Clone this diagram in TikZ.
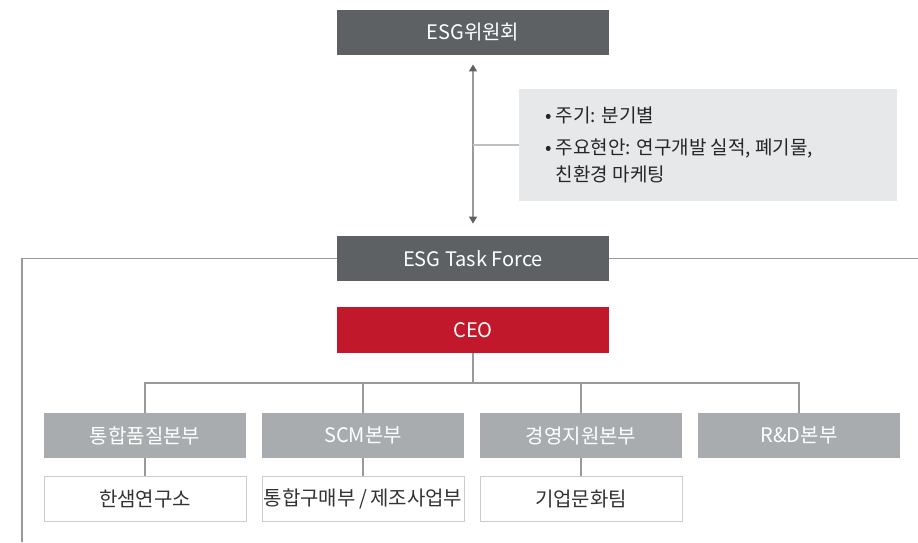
\documentclass[tikz,border=0pt]{standalone}
\usepackage{fontspec}
\setmainfont{Noto Sans CJK KR}
\usepackage{tikz}
\usetikzlibrary{arrows.meta}

\definecolor{boxdark}{HTML}{5E6164}
\definecolor{boxred}{HTML}{C1182B}
\definecolor{boxgray}{HTML}{A9ACAF}
\definecolor{infogray}{HTML}{E6E8EA}
\definecolor{linegray}{HTML}{9A9A9A}

\tikzset{
  topbox/.style={fill=boxdark,text=white,minimum width=272pt,minimum height=45.5pt,inner sep=0pt,font=\fontsize{20}{24}\selectfont},
  deptbox/.style={fill=boxgray,text=white,minimum width=202pt,minimum height=45.5pt,inner sep=0pt,font=\fontsize{20}{24}\selectfont},
  subbox/.style={draw=black!20,line width=1pt,fill=white,text=black!80,minimum width=202pt,minimum height=45.5pt,inner sep=0pt,font=\fontsize{20}{24}\selectfont},
  orgline/.style={draw=linegray,line width=1.2pt}
}

\begin{document}
\begin{tikzpicture}[x=1pt,y=-1pt]
\useasboundingbox (0,0) rectangle (918,542);
% upper part
\node[topbox] (committee) at (473,32.5) {ESG위원회};
\node[topbox] (taskforce) at (473,258.5) {ESG Task Force};
\node[topbox,fill=boxred] (ceo) at (473,330) {CEO};
\node[fill=infogray,minimum width=378pt,minimum height=112pt,inner sep=0pt] (info) at (708,145) {};
\node[anchor=north west,align=left,inner sep=0pt,text=black!85,font=\fontsize{19}{27}\selectfont] (infotext) at (545,107)
  {• 주기: 분기별\\[5pt]• 주요현안: 연구개발 실적, 폐기물,\\\hphantom{• }친환경 마케팅};
\draw[orgline,{Triangle[width=8pt,length=7pt,color=boxdark]}-{Triangle[width=8pt,length=7pt,color=boxdark]},shorten <=9pt,shorten >=12pt] (committee.south) -- (taskforce.north);
\coordinate (mid) at (473,145);
\draw[orgline,draw=black!25] (mid) -- (info.west);
\coordinate (leftend) at (22,542);
\coordinate (rightend) at (918,258.5);
\draw[orgline] (taskforce.west) -| (leftend);
\draw[orgline] (taskforce.east) -- (rightend);
% departments
\foreach \x/\name/\txt in {145/d1/통합품질본부,363/d2/SCM본부,581/d3/경영지원본부,799/d4/R\&D본부}
  \node[deptbox] (\name) at (\x,435.5) {\txt};
\foreach \x/\name/\txt in {145/s1/한샘연구소,363/s2/{통합구매부\,/\,제조사업부},581/s3/기업문화팀}
  \node[subbox] (\name) at (\x,499) {\txt};
\coordinate (branch) at (473,383);
\draw[orgline] (ceo.south) -- (branch);
\draw[orgline] (d1.north) |- (branch) -| (d4.north);
\foreach \d in {d2,d3}
  \draw[orgline] (\d.north) -- (\d.north |- branch);
\foreach \d/\s in {d1/s1,d2/s2,d3/s3}
  \draw[orgline] (\d.south) -- (\s.north);
\end{tikzpicture}
\end{document}
